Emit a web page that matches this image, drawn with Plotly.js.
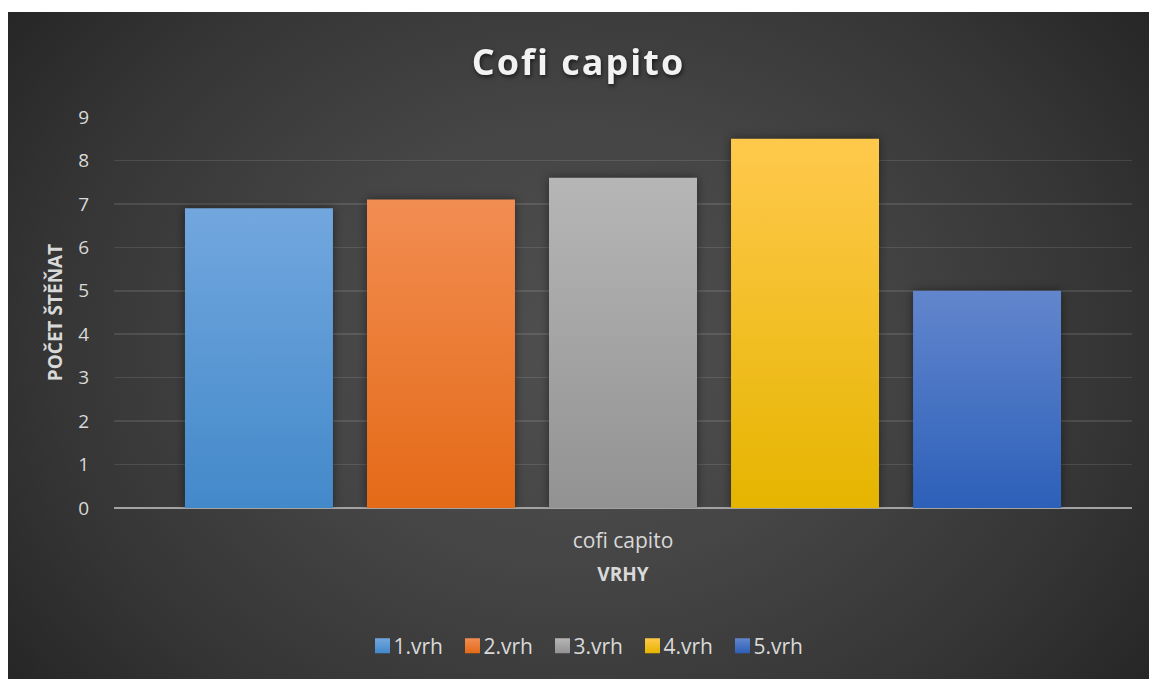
<!DOCTYPE html>
<html>
<head>
<meta charset="utf-8">
<script src="https://cdn.plot.ly/plotly-3.0.1.min.js"></script>
<style>
  html, body { margin:0; padding:0; background:#ffffff; width:1149px; height:679px; overflow:hidden; }
  #chart {
    position:absolute; left:8px; top:12px; width:1141px; height:667px;
    background: radial-gradient(ellipse 62% 85% at 50% 50%, #4f4f4f 0%, #454545 40%, #353535 75%, #262626 100%);
  }
</style>
</head>
<body>
<div id="chart"></div>
<script>
const categories = ['cofi capito'];
const seriesNames = ['1.vrh', '2.vrh', '3.vrh', '4.vrh', '5.vrh'];
const values = [6.9, 7.1, 7.6, 8.5, 5.0];
const yTickVals = [0, 1, 2, 3, 4, 5, 6, 7, 8, 9];
const chartTitle = 'Cofi capito';
const yTitle = 'POČET ŠTĚŇAT';
const xTitle = 'VRHY';

const topColors = ['#72A7DE', '#F28D52', '#B6B6B6', '#FFC94C', '#6286CD'];
const bottomColors = ['#4389CA', '#E46A17', '#929292', '#E5B500', '#2D60B9'];
const textColor = '#d9d9d9';
const font = '"Open Sans", "Liberation Sans", sans-serif';

const traces = seriesNames.map((name, i) => ({
  type: 'bar',
  name: name,
  x: categories,
  y: [values[i]],
  marker: { color: topColors[i], line: { width: 0 } },
  hoverinfo: 'none'
}));

const layout = {
  width: 1141,
  height: 667,
  paper_bgcolor: 'rgba(0,0,0,0)',
  plot_bgcolor: 'rgba(0,0,0,0)',
  margin: { l: 106, r: 17, t: 105, b: 171 },
  barmode: 'group',
  bargap: 0.106,
  bargroupgap: 0.187,
  font: { family: font, color: textColor },
  title: {
    text: chartTitle,
    font: { family: font, size: 36, color: '#f2f2f2', weight: 'bold' },
    x: 0.5, xanchor: 'center',
    xref: 'container', yref: 'container',
    y: 1 - 50 / 667, yanchor: 'middle'
  },
  xaxis: {
    type: 'category',
    showgrid: false,
    showline: false,
    zeroline: false,
    ticks: '',
    tickfont: { family: font, size: 21, color: textColor },
    ticklabelstandoff: 18,
    title: { text: xTitle, font: { family: font, size: 19, color: textColor, weight: 'bold' }, standoff: 14 }
  },
  yaxis: {
    range: [0, 9],
    tickvals: yTickVals,
    showgrid: true,
    gridcolor: 'rgba(255,255,255,0.11)',
    gridwidth: 1.5,
    zeroline: true,
    zerolinecolor: '#a3a3a3',
    zerolinewidth: 2,
    showline: false,
    ticks: '',
    tickfont: { family: font, size: 19, color: textColor },
    ticklabelstandoff: 24,
    title: { text: yTitle, font: { family: font, size: 19, color: textColor, weight: 'bold' }, standoff: 10 }
  },
  legend: {
    orientation: 'h',
    x: 0.5, xanchor: 'center',
    xref: 'container',
    yref: 'container',
    y: 1 - 634 / 667, yanchor: 'middle',
    font: { family: font, size: 21, color: textColor },
    entrywidth: 45,
    entrywidthmode: 'pixels',
    itemclick: false,
    itemdoubleclick: false,
    traceorder: 'normal'
  },
  showlegend: true
};

Plotly.newPlot('chart', traces, layout, { staticPlot: true, displayModeBar: false }).then(gd => {
  const svg = gd.querySelector('svg.main-svg');
  const ns = 'http://www.w3.org/2000/svg';
  const defs = document.createElementNS(ns, 'defs');
  topColors.forEach((c, i) => {
    const lg = document.createElementNS(ns, 'linearGradient');
    lg.setAttribute('id', 'barGrad' + i);
    lg.setAttribute('x1', '0'); lg.setAttribute('y1', '0');
    lg.setAttribute('x2', '0'); lg.setAttribute('y2', '1');
    const s1 = document.createElementNS(ns, 'stop');
    s1.setAttribute('offset', '0'); s1.setAttribute('stop-color', c);
    const s2 = document.createElementNS(ns, 'stop');
    s2.setAttribute('offset', '1'); s2.setAttribute('stop-color', bottomColors[i]);
    lg.appendChild(s1); lg.appendChild(s2);
    defs.appendChild(lg);
  });
  svg.insertBefore(defs, svg.firstChild);

  gd.querySelectorAll('.barlayer .trace').forEach((tr, i) => {
    tr.querySelectorAll('path').forEach(p => {
      p.style.fill = 'url(#barGrad' + i + ')';
      p.style.filter = 'drop-shadow(0px 0px 5px rgba(0,0,0,0.45))';
    });
  });
  // legend: bigger square, placed right next to the label text
  gd.querySelectorAll('.legend .traces').forEach((tr, i) => {
    tr.querySelectorAll('.legendpoints path').forEach(p => {
      p.setAttribute('d', 'M7.5,7.5H-7.5V-7.5H7.5Z');
      p.setAttribute('transform', 'translate(29,0)');
      p.style.fill = 'url(#barGrad' + i + ')';
    });
  });
  const t = gd.querySelector('.gtitle');
  if (t) {
    t.style.letterSpacing = '2px';
    t.style.filter = 'drop-shadow(1px 2px 2px rgba(0,0,0,0.6))';
  }
});
</script>
</body>
</html>
